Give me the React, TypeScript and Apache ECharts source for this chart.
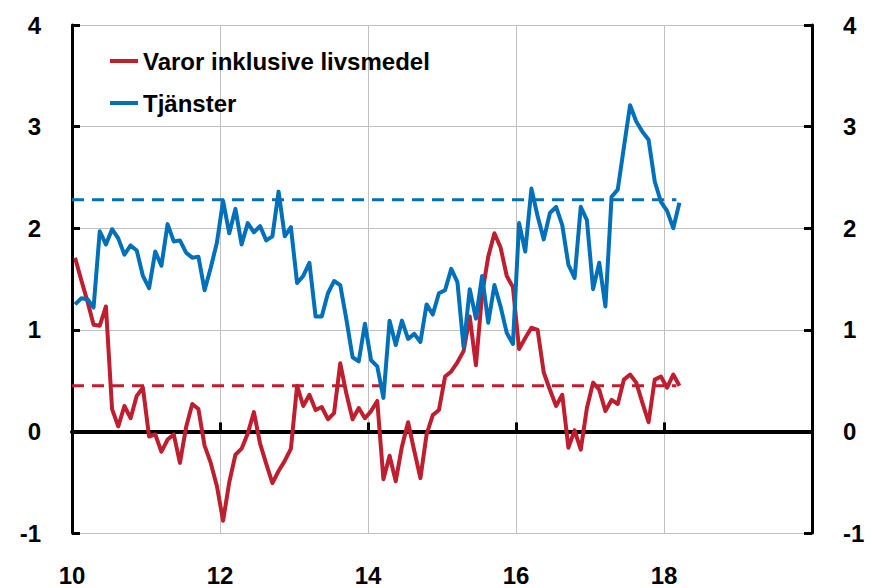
import React, { useEffect, useRef } from "react";
import * as echarts from "echarts";

// Monthly data, Jan 2010 – Mar 2018 (percent)
const START_YEAR = 10; // 2010
const END_YEAR = 20;

const varor: number[] = [
  1.71, 1.49, 1.28, 1.05, 1.04, 1.23, 0.22, 0.05, 0.25, 0.13, 0.35, 0.43,
  -0.05, -0.03, -0.2, -0.08, -0.03, -0.31, 0.04, 0.27, 0.22, -0.14, -0.31, -0.54,
  -0.88, -0.5, -0.23, -0.17, -0.02, 0.19, -0.12, -0.32, -0.51, -0.39, -0.29, -0.17,
  0.45, 0.25, 0.36, 0.21, 0.24, 0.12, 0.18, 0.67, 0.37, 0.12, 0.23, 0.13,
  0.2, 0.3, -0.47, -0.24, -0.49, -0.15, 0.09, -0.19, -0.46, -0.03, 0.16, 0.21,
  0.54, 0.59, 0.68, 0.79, 1.13, 0.65, 1.35, 1.72, 1.95, 1.81, 1.53, 1.42,
  0.81, 0.92, 1.02, 1.0, 0.58, 0.41, 0.25, 0.36, -0.16, 0.01, -0.18, 0.23,
  0.48, 0.41, 0.2, 0.31, 0.27, 0.51, 0.56, 0.48, 0.28, 0.09, 0.51, 0.54,
  0.43, 0.56, 0.45,
];

const tjanster: number[] = [
  1.25, 1.31, 1.3, 1.22, 1.97, 1.84, 1.99, 1.9, 1.74, 1.83, 1.78, 1.53,
  1.41, 1.77, 1.63, 2.04, 1.87, 1.88, 1.76, 1.71, 1.72, 1.39, 1.61, 1.86,
  2.27, 1.95, 2.19, 1.84, 2.05, 1.96, 2.02, 1.88, 1.92, 2.36, 1.92, 2.01,
  1.46, 1.53, 1.66, 1.13, 1.13, 1.36, 1.48, 1.44, 1.1, 0.73, 0.69, 1.06,
  0.7, 0.64, 0.33, 1.09, 0.85, 1.09, 0.91, 0.96, 0.88, 1.25, 1.15, 1.36,
  1.39, 1.6, 1.47, 0.83, 1.4, 1.11, 1.53, 1.07, 1.44, 1.23, 0.97, 0.86,
  2.05, 1.77, 2.39, 2.12, 1.89, 2.15, 2.21, 2.03, 1.64, 1.51, 2.21, 2.08,
  1.4, 1.66, 1.23, 2.31, 2.38, 2.8, 3.21, 3.05, 2.95, 2.87, 2.46, 2.26,
  2.17, 2.0, 2.25,
];

// Period averages (dashed lines)
const varorAverage = 0.45;
const tjansterAverage = 2.28;

const seriesNames = ["Varor inklusive livsmedel", "Tjänster"];
const xTickLabels = ["10", "12", "14", "16", "18"];
const yTickLabels = ["-1", "0", "1", "2", "3", "4"];

const RED = "#BE1E2D";
const BLUE = "#0070BB";
const GRID = "#C0C0C0";
const FONT = "'Liberation Sans', Arial, sans-serif";

const toPoints = (arr: number[]) =>
  arr.map((v, i) => [START_YEAR + (i + 0.5) / 12, v]);

const avgLine = (avg: number, n: number) => [
  [START_YEAR, avg],
  [START_YEAR + (n - 1) / 12, avg],
];

export default function App() {
  const ref = useRef<HTMLDivElement>(null);

  useEffect(() => {
    if (!ref.current) return;
    const chart = echarts.init(ref.current, null, { renderer: "svg" });

    const labelStyle = {
      fontSize: 24,
      fontWeight: "bold" as const,
      color: "#000",
      fontFamily: FONT,
    };

    const yAxisBase = {
      type: "value" as const,
      min: -1,
      max: 4,
      interval: 1,
      axisLine: { show: true, onZero: false, lineStyle: { color: "#000", width: 3 } },
      axisTick: { show: true, inside: true, length: 8, lineStyle: { color: "#000", width: 3 } },
      axisLabel: {
        ...labelStyle,
        margin: 31,
        formatter: (v: number) => (yTickLabels.includes(String(v)) ? String(v) : ""),
      },
    };

    chart.setOption({
      animation: false,
      grid: { left: 72, right: 59, top: 25, bottom: 55, containLabel: false },
      legend: {
        data: seriesNames,
        orient: "vertical",
        icon: "rect",
        left: 105,
        top: 44,
        itemWidth: 28,
        itemHeight: 4,
        itemGap: 18,
        textStyle: { ...labelStyle },
      },
      xAxis: [
        {
          type: "value",
          min: START_YEAR,
          max: END_YEAR,
          interval: 2,
          position: "bottom",
          axisLine: { show: false, onZero: false },
          axisTick: { show: false },
          axisLabel: {
            ...labelStyle,
            margin: 30,
            formatter: (v: number) => (xTickLabels.includes(String(v)) ? String(v) : ""),
          },
          splitLine: { show: true, lineStyle: { color: GRID, width: 1 } },
        },
        {
          type: "value",
          min: START_YEAR,
          max: END_YEAR,
          interval: 2,
          position: "bottom",
          axisLine: { show: true, onZero: true, lineStyle: { color: "#000", width: 4 } },
          axisTick: { show: true, inside: true, length: 9, lineStyle: { color: "#000", width: 3 } },
          axisLabel: { show: false },
          splitLine: { show: false },
        },
      ],
      yAxis: [
        {
          ...yAxisBase,
          position: "left",
          splitLine: { show: true, lineStyle: { color: GRID, width: 1 } },
        },
        {
          ...yAxisBase,
          position: "right",
          splitLine: { show: false },
        },
      ],
      series: [
        {
          name: "Varor snitt",
          type: "line",
          data: avgLine(varorAverage, varor.length),
          symbol: "none",
          lineStyle: { color: RED, width: 3, type: [12, 8] },
          z: 2,
        },
        {
          name: "Tjänster snitt",
          type: "line",
          data: avgLine(tjansterAverage, tjanster.length),
          symbol: "none",
          lineStyle: { color: BLUE, width: 3, type: [12, 8] },
          z: 2,
        },
        {
          name: seriesNames[0],
          type: "line",
          data: toPoints(varor),
          symbol: "none",
          itemStyle: { color: RED },
          lineStyle: { color: RED, width: 4, join: "round" },
          z: 3,
        },
        {
          name: seriesNames[1],
          type: "line",
          data: toPoints(tjanster),
          symbol: "none",
          itemStyle: { color: BLUE },
          lineStyle: { color: BLUE, width: 4, join: "round" },
          z: 4,
        },
      ],
    });

    return () => chart.dispose();
  }, []);

  return (
    <div
      ref={ref}
      style={{ position: "fixed", left: 0, top: 0, width: 871, height: 588, background: "#fff" }}
    />
  );
}
